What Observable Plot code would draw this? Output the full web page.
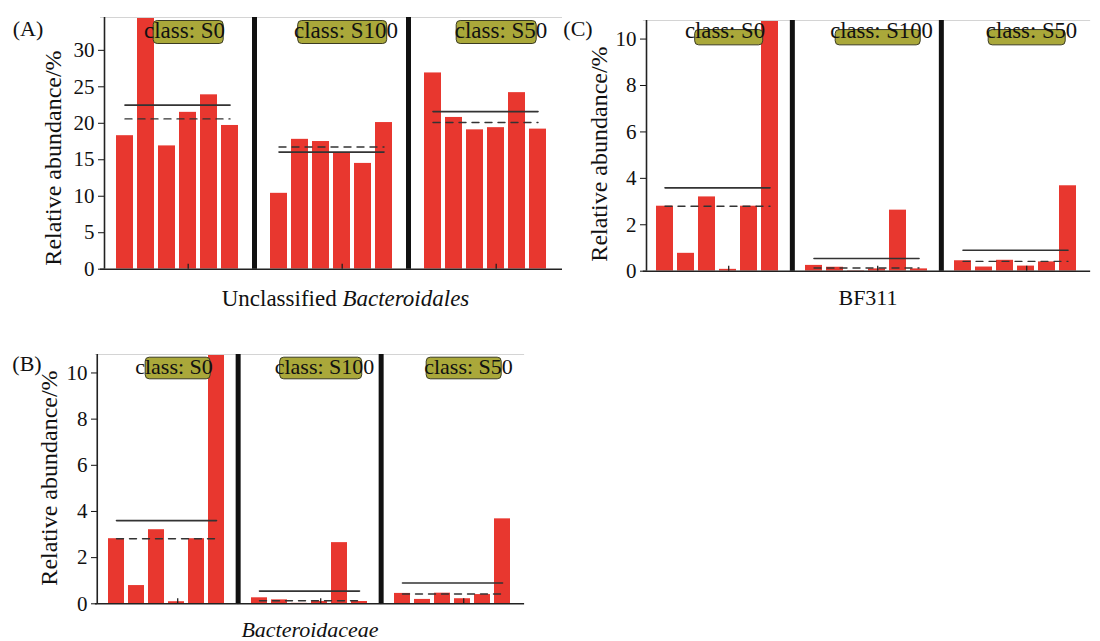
<!DOCTYPE html>
<html><head><meta charset="utf-8">
<script src="https://cdn.jsdelivr.net/npm/d3@7"></script>
<script src="https://cdn.jsdelivr.net/npm/@observablehq/plot@0.6"></script>
<style>
body{margin:0;background:#fff;font-family:"Liberation Serif","Times New Roman",serif;}
#root{position:relative;width:1100px;height:641px;overflow:hidden;background:#fff;}
.abs{position:absolute;white-space:nowrap;color:#111;line-height:1;font-family:"Liberation Serif","Times New Roman",serif;}
.panel{position:absolute;}
</style></head><body><div id="root"></div>
<script>
// ---- data ----
const classes = ["S0", "S100", "S50"];
const samples = ["1", "2", "3", "4", "5", "6"];

// (A) Unclassified Bacteroidales
const unclassifiedS0   = [18.3, 34.6, 16.9, 21.5, 23.9, 19.7];
const unclassifiedS100 = [10.4, 17.8, 17.5, 16.0, 14.5, 20.1];
const unclassifiedS50  = [26.9, 20.8, 19.1, 19.4, 24.2, 19.2];

// (B) Bacteroidaceae
const bacteroidaceaeS0   = [2.82, 0.79, 3.21, 0.09, 2.82, 11.9];
const bacteroidaceaeS100 = [0.26, 0.17, 0.02, 0.10, 2.65, 0.10];
const bacteroidaceaeS50  = [0.45, 0.19, 0.46, 0.22, 0.40, 3.68];

// (C) BF311
const bf311S0   = [2.80, 0.77, 3.20, 0.08, 2.80, 11.9];
const bf311S100 = [0.25, 0.17, 0.02, 0.10, 2.63, 0.10];
const bf311S50  = [0.45, 0.18, 0.47, 0.22, 0.40, 3.68];

const ticksA = [0, 5, 10, 15, 20, 25, 30];
const ticksBC = [0, 2, 4, 6, 8, 10];
const yLabel = "Relative abundance/%";

// ---- drawing ----
const root = document.getElementById("root");
const BAR = "#e8372f";
const SERIF = "'Liberation Serif','Times New Roman',serif";

function roundBox(w, h, r) {
  return {draw(ctx) {
    const x0 = -w / 2, x1 = w / 2, y0 = -h / 2, y1 = h / 2;
    ctx.moveTo(x0 + r, y0);
    ctx.arcTo(x1, y0, x1, y1, r);
    ctx.arcTo(x1, y1, x0, y1, r);
    ctx.arcTo(x0, y1, x0, y0, r);
    ctx.arcTo(x0, y0, x1, y0, r);
    ctx.closePath();
  }};
}

function makePanel(cfg) {
  const rows = classes.flatMap((c, i) => cfg.values[i].map((v, j) => ({cls: c, sample: samples[j], value: v})));
  const facetRows = classes.map(c => ({cls: c}));
  const halfGap = cfg.gap / 2;
  const xStep = (cfg.facetW - 2 * cfg.pad) / (6 - 0.18);
  const xPadOuter = cfg.pad / xStep;
  const marginRight = cfg.width - cfg.marginLeft - (3 * cfg.facetW + 2 * cfg.gap);
  const marks = [
    Plot.barY(rows, {fx: "cls", x: "sample", y: "value", fill: BAR, clip: true}),
    Plot.ruleY([cfg.yMax], {stroke: "#d4d4d4", strokeWidth: 1, insetLeft: -halfGap, insetRight: -halfGap}),
    Plot.lineY(rows, Plot.mapY(v => v.map(() => d3.mean(v)), {fx: "cls", x: "sample", y: "value", stroke: "#333", strokeWidth: 1.6})),
    Plot.lineY(rows, Plot.mapY(v => v.map(() => d3.median(v)), {fx: "cls", x: "sample", y: "value", stroke: "#333", strokeWidth: 1.4, strokeDasharray: "7,6"})),
    Plot.ruleY([0], {stroke: "#222", strokeWidth: 1.6, insetLeft: -halfGap, insetRight: -halfGap}),
    // y-axis line at the left edge of the first facet
    Plot.ruleX(facetRows.slice(0, 1), {fx: "cls", x: null, dx: -cfg.facetW / 2, stroke: "#222", strokeWidth: 1.6}),
    // small ticks on the bottom axis
    Plot.ruleX(facetRows, {fx: "cls", x: null, dx: 10.7, y1: 0, y2: 0, insetTop: -5, stroke: "#222", strokeWidth: 1.3}),
    // thick dividers between facets
    Plot.ruleX(facetRows.slice(1), {fx: "cls", x: null, dx: -(cfg.facetW / 2 + halfGap), stroke: "#111", strokeWidth: 5})
  ];
  const textDx = [7, 14.5, 15.5];
  classes.forEach((c, i) => {
    marks.push(Plot.dot([{cls: c}], {fx: "cls", frameAnchor: "top", dx: 10.7, dy: cfg.boxC, r: 1,
      symbol: roundBox(cfg.boxW[i], cfg.boxH, 4), fill: "#aaa83a", stroke: "#3b3b22", strokeWidth: 1}));
    marks.push(Plot.text([{cls: c}], {fx: "cls", frameAnchor: "top", lineAnchor: "bottom", dx: textDx[i], dy: cfg.baseline,
      text: d => "class: " + d.cls, fontSize: cfg.labelSize, fill: "#111"}));
  });
  const svg = Plot.plot({
    width: cfg.width, height: cfg.height,
    marginLeft: cfg.marginLeft, marginRight, marginTop: cfg.marginTop, marginBottom: cfg.marginBottom,
    style: {fontFamily: SERIF, fontSize: "21px", color: "#111", background: "transparent", overflow: "visible"},
    fx: {domain: classes, paddingInner: cfg.gap / (cfg.facetW + cfg.gap), paddingOuter: 0, axis: null, label: null},
    x: {domain: samples, paddingInner: 0.18, paddingOuter: xPadOuter, axis: null, label: null},
    y: {domain: [0, cfg.yMax], ticks: cfg.ticks, tickSize: 6, tickPadding: 4, label: null},
    marks
  });
  const wrap = document.createElement("div");
  wrap.className = "panel";
  wrap.style.left = cfg.left + "px";
  wrap.style.top = cfg.top + "px";
  wrap.appendChild(svg);
  root.appendChild(wrap);
}

function addText(html, cx, cy, size, opts = {}) {
  const d = document.createElement("div");
  d.className = "abs";
  d.innerHTML = html;
  d.style.left = cx + "px";
  d.style.top = cy + "px";
  d.style.fontSize = size + "px";
  d.style.transform = "translate(-50%,-50%)" + (opts.rotate ? " rotate(-90deg)" : "");
  root.appendChild(d);
}

makePanel({left: 0, top: 0, width: 560, height: 300, marginLeft: 104, marginTop: 17, marginBottom: 31.3,
  facetW: 146, gap: 8, pad: 9, yMax: 34.5, ticks: ticksA,
  values: [unclassifiedS0, unclassifiedS100, unclassifiedS50],
  boxW: [70, 89, 80], boxH: 23, boxC: 14.5, baseline: 20.3, labelSize: 23});
makePanel({left: 0, top: 330, width: 560, height: 311, marginLeft: 96, marginTop: 24, marginBottom: 37.7,
  facetW: 139.5, gap: 4.2, pad: 10, yMax: 10.8, ticks: ticksBC,
  values: [bacteroidaceaeS0, bacteroidaceaeS100, bacteroidaceaeS50],
  boxW: [65, 82, 75], boxH: 21.6, boxC: 13.5, baseline: 19.3, labelSize: 22});
makePanel({left: 560, top: 0, width: 540, height: 300, marginLeft: 86, marginTop: 20, marginBottom: 29.3,
  facetW: 143, gap: 6.3, pad: 10, yMax: 10.8, ticks: ticksBC,
  values: [bf311S0, bf311S100, bf311S50],
  boxW: [68, 85, 77], boxH: 15.3, boxC: 16.7, baseline: 17.3, labelSize: 22.7});

// panel letters
addText("(A)", 28, 29, 22);
addText("(B)", 27, 364, 22);
addText("(C)", 578, 29, 22);
// y labels
addText(yLabel, 52.5, 158, 24, {rotate: true});
addText(yLabel, 49, 478, 24, {rotate: true});
addText(yLabel, 599, 154, 24, {rotate: true});
// x titles
addText("Unclassified <i>Bacteroidales</i>", 345.5, 298, 23);
addText("<i>Bacteroidaceae</i>", 310, 630, 22);
addText("BF311", 868, 297.5, 22);
</script>
</body></html>
